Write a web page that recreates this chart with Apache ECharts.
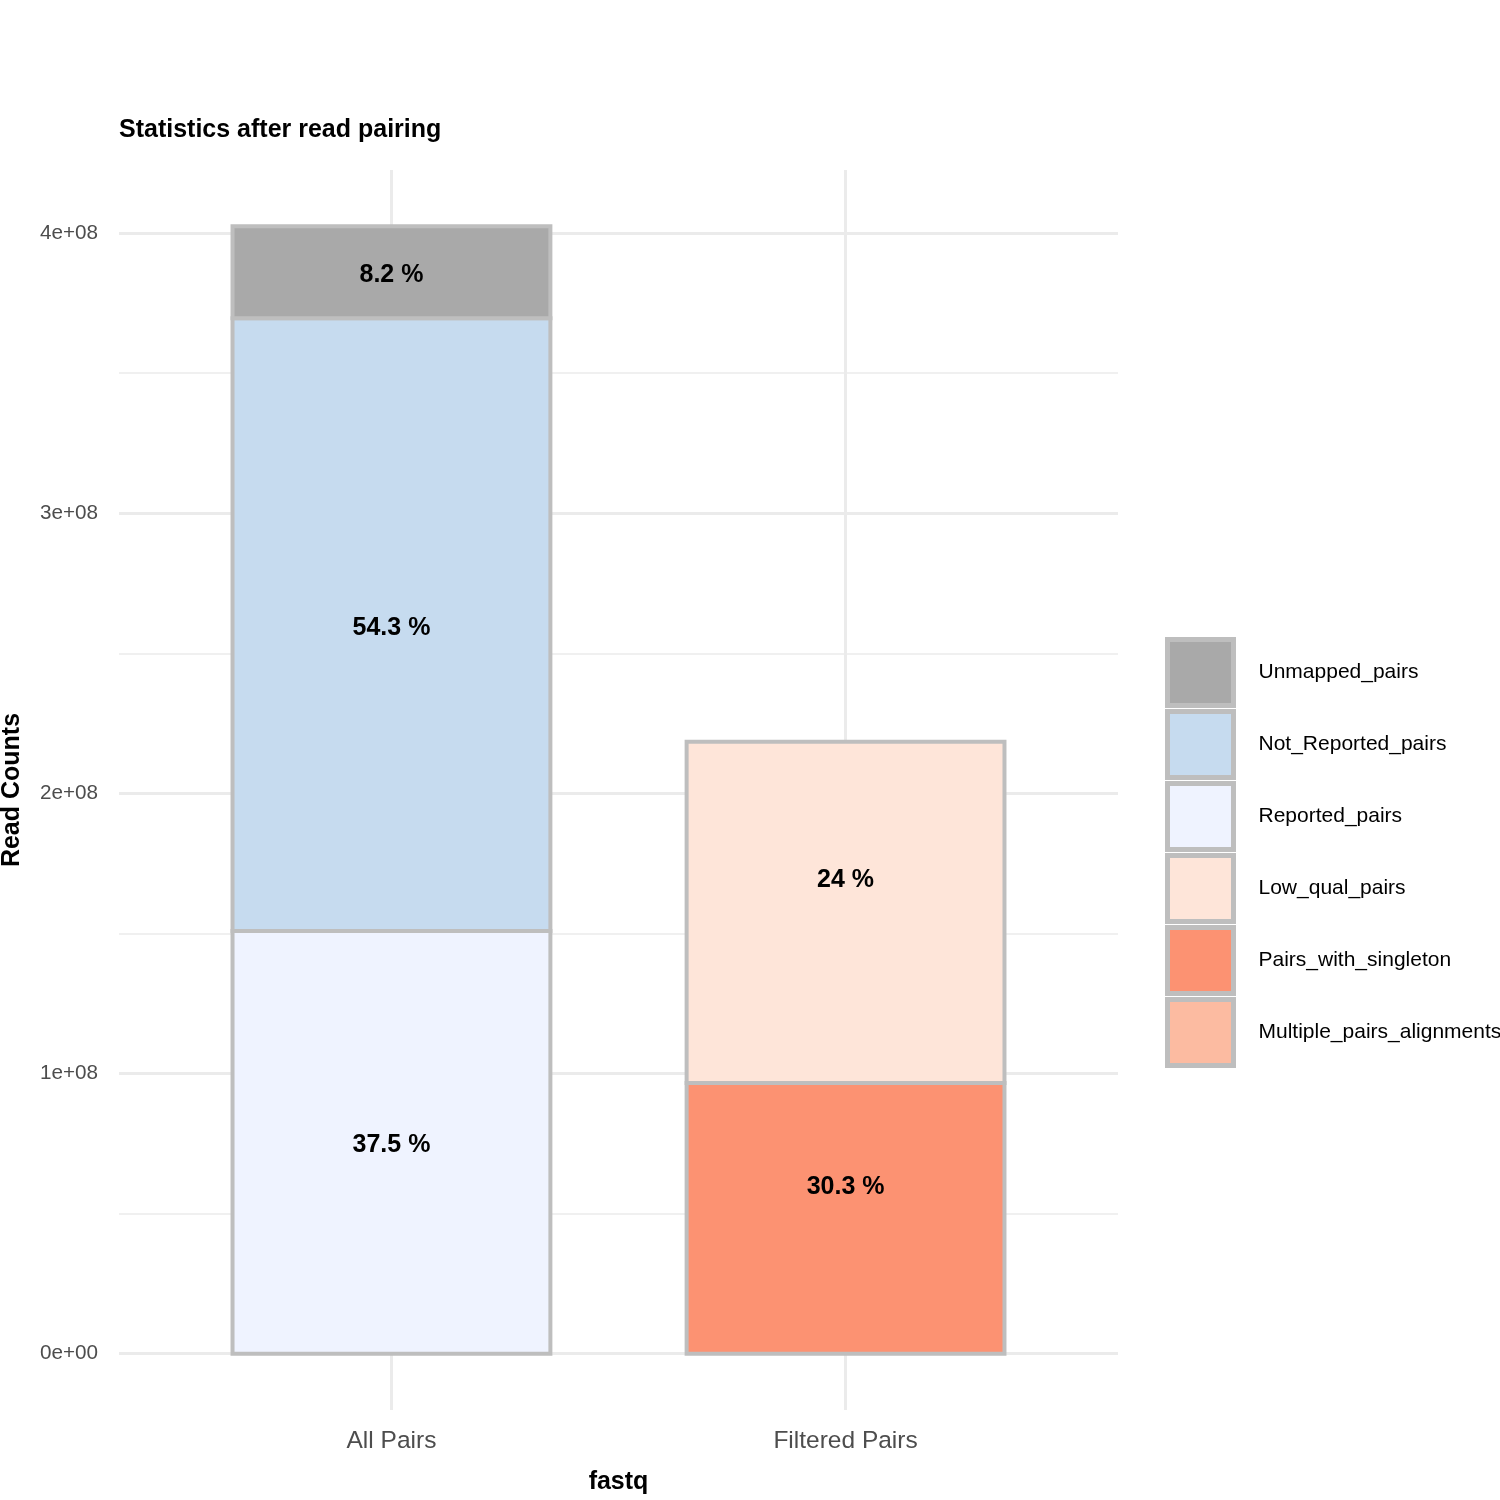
<!DOCTYPE html>
<html><head><meta charset="utf-8">
<script src="https://cdn.jsdelivr.net/npm/echarts@6/dist/echarts.min.js"></script>
<style>html,body{margin:0;padding:0;background:#fff}#c{width:1500px;height:1500px}</style>
</head><body><div id="c"></div>
<script>
// ---- data ----
const categories = ['All Pairs', 'Filtered Pairs'];
const categoryPos = [1, 2];
const unmappedPairs          = [0.328e8, null];
const notReportedPairs       = [2.187e8, null];
const reportedPairs          = [1.509e8, null];
const lowQualPairs           = [null, 1.218e8];
const pairsWithSingleton     = [null, 0.966e8];
const multiplePairsAlignments = [null, null];
const legendOrder = ['Unmapped_pairs', 'Not_Reported_pairs', 'Reported_pairs', 'Low_qual_pairs', 'Pairs_with_singleton', 'Multiple_pairs_alignments'];
const labelCategory = [1, 1, 1, 2, 2];
const labelValue    = [0.752e8, 2.598e8, 3.859e8, 0.605e8, 1.698e8];
const labelText     = ['37.5 %', '54.3 %', '8.2 %', '30.3 %', '24 %'];
const yMajorTicks = [0, 1e8, 2e8, 3e8, 4e8];
const yMinorTicks = [0.5e8, 1.5e8, 2.5e8, 3.5e8];

const FONT = '"Liberation Sans", Arial, Helvetica, sans-serif';
const GRID = '#ebebeb';
const OUTLINE = '#bebebe';
const BAR_WIDTH = 0.7; // in category units, as in ggplot

function sci(v) {
  if (v === 0) return '0e+00';
  const e = Math.floor(Math.log10(Math.abs(v)));
  const m = Math.round(v / Math.pow(10, e) * 100) / 100;
  return m + 'e' + (e < 0 ? '-' : '+') + String(Math.abs(e)).padStart(2, '0');
}

// stack order bottom -> top
const stackSeries = [
  ['Multiple_pairs_alignments', multiplePairsAlignments, '#fcbba1'],
  ['Pairs_with_singleton', pairsWithSingleton, '#fc9272'],
  ['Low_qual_pairs', lowQualPairs, '#fee5d9'],
  ['Reported_pairs', reportedPairs, '#eff3ff'],
  ['Not_Reported_pairs', notReportedPairs, '#c6dbef'],
  ['Unmapped_pairs', unmappedPairs, '#a9a9a9']
];

const total = Math.max(...categoryPos.map((_, i) =>
  stackSeries.reduce((s, d) => s + (d[1][i] || 0), 0)));
const yMin = -0.05 * total, yMax = total * 1.05;

const series = [];
series.push({
  type: 'scatter', name: '_grid', data: [], z: 1, silent: true,
  markLine: {
    z: 1, silent: true, symbol: ['none', 'none'], label: { show: false },
    animation: false,
    data: [
      ...yMajorTicks.map(v => ({ yAxis: v, lineStyle: { color: GRID, width: 3, type: 'solid' } })),
      ...yMinorTicks.map(v => ({ yAxis: v, lineStyle: { color: GRID, width: 1.6, type: 'solid' } })),
      ...categoryPos.map(x => ({ xAxis: x, lineStyle: { color: GRID, width: 3, type: 'solid' } }))
    ]
  }
});

const running = categoryPos.map(() => 0);
stackSeries.forEach(([name, vals, color]) => {
  const data = [];
  categoryPos.forEach((x, i) => {
    if (vals[i] == null) return;
    const base = running[i];
    running[i] += vals[i];
    data.push([x, running[i], base]);
  });
  series.push({
    type: 'custom', name, z: 2,
    itemStyle: { color, borderColor: OUTLINE, borderWidth: 4 },
    encode: { x: 0, y: [1, 2] },
    data,
    renderItem: (params, api) => {
      const x = api.value(0), top = api.value(1), bot = api.value(2);
      const p0 = api.coord([x - BAR_WIDTH / 2, top]);
      const p1 = api.coord([x + BAR_WIDTH / 2, bot]);
      return {
        type: 'rect',
        shape: { x: p0[0], y: p0[1], width: p1[0] - p0[0], height: p1[1] - p0[1] },
        style: { fill: color, stroke: OUTLINE, lineWidth: 4 }
      };
    }
  });
});

series.push({
  type: 'scatter', name: '_labels', z: 10, symbolSize: 0, silent: true,
  itemStyle: { opacity: 1 },
  data: labelCategory.map((x, i) => ({ value: [x, labelValue[i]], name: labelText[i] })),
  label: { show: true, position: 'inside', formatter: p => p.name, offset: [0, 2.5],
    fontFamily: FONT, fontSize: 25, fontWeight: 'bold', color: '#000', opacity: 1 }
});

const chart = echarts.init(document.getElementById('c'), null, { renderer: 'canvas' });
chart.setOption({
  animation: false,
  backgroundColor: '#fff',
  title: { text: 'Statistics after read pairing', left: 119, top: 118, padding: 0,
    textStyle: { fontFamily: FONT, fontSize: 25, fontWeight: 'bold', color: '#000' } },
  grid: { left: 119, right: 382, top: 170, bottom: 90, containLabel: false, outerBoundsMode: 'none' },
  xAxis: {
    type: 'value', min: 0.4, max: 2.6,
    name: 'fastq', nameLocation: 'middle', nameGap: 60,
    nameTextStyle: { fontFamily: FONT, fontSize: 25, fontWeight: 'bold', color: '#000' },
    axisLine: { show: false }, axisTick: { show: false }, splitLine: { show: false },
    axisLabel: { customValues: categoryPos, formatter: v => categories[Math.round(v) - 1],
      fontFamily: FONT, fontSize: 24.5, color: '#4d4d4d', margin: 19 }
  },
  yAxis: {
    type: 'value', min: yMin, max: yMax,
    name: 'Read Counts', nameLocation: 'middle', nameGap: 94,
    nameTextStyle: { fontFamily: FONT, fontSize: 25, fontWeight: 'bold', color: '#000' },
    axisLine: { show: false }, axisTick: { show: false }, splitLine: { show: false },
    axisLabel: { customValues: yMajorTicks, formatter: v => sci(v),
      fontFamily: FONT, fontSize: 20.7, color: '#4d4d4d', margin: 21 }
  },
  legend: {
    orient: 'vertical', left: 1165, top: 637, padding: 0,
    data: legendOrder, icon: 'rect', itemWidth: 66, itemHeight: 66, itemGap: 1,
    selectedMode: false,
    itemStyle: { borderColor: OUTLINE, borderWidth: 5 },
    textStyle: { fontFamily: FONT, fontSize: 21, color: '#000', padding: [0, 0, 0, 20] }
  },
  series
});
</script></body></html>
